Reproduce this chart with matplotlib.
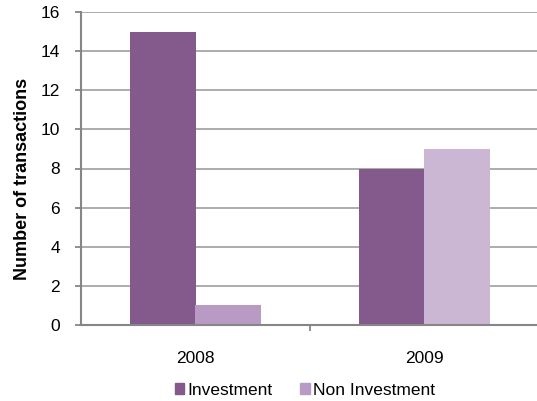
import numpy as np
import matplotlib.pyplot as plt
from matplotlib.patches import Patch

plt.rcParams['font.family'] = ['Liberation Sans', 'DejaVu Sans']

# Кількість угод за роками
years = ['2008', '2009']
investment = [15, 8]
non_investment = [1, 9]

inv_color = '#845A8D'
non_inv_colors = ['#B99AC4', '#CBB6D4']
grid_color = '#A6A6A6'
axis_color = '#868686'

fig = plt.figure(figsize=(5.37, 4.01), dpi=100)
ax = fig.add_axes([81 / 537, 76 / 401, 458 / 537, 313 / 401])

x = np.arange(len(years))
w = 0.288
ax.bar(x - w / 2, investment, w, color=inv_color, zorder=3)
ax.bar(x + w / 2, non_investment, w, color=non_inv_colors, zorder=3)

ax.set_xlim(-0.5, 1.5)
ax.set_ylim(0, 16)
ax.set_yticks(range(0, 17, 2))
ax.yaxis.grid(True, color=grid_color, linewidth=1.3, zorder=0)
ax.set_axisbelow(True)

for s in ['top', 'right']:
    ax.spines[s].set_visible(False)
for s in ['left', 'bottom']:
    ax.spines[s].set_color(axis_color)
    ax.spines[s].set_linewidth(1.5)
    ax.spines[s].set_zorder(4)

ax.tick_params(axis='y', length=4, width=1.3, color=axis_color, pad=11, labelsize=12.5)
ax.set_xticks(x, years)
ax.tick_params(axis='x', which='major', length=0, pad=19, labelsize=12.5)
ax.set_xticks([0.5], minor=True)
ax.tick_params(axis='x', which='minor', length=4, width=1.3, color=axis_color)

ax.set_ylabel('Number of transactions', fontsize=13, fontweight='bold')
ax.yaxis.set_label_coords(-0.11, 0.466)

handles = [Patch(color=inv_color, label='Investment'),
           Patch(color=non_inv_colors[0], label='Non Investment')]
fig.legend(handles=handles, loc='center', bbox_to_anchor=(0.568, 0.027), ncol=2,
           frameon=False, fontsize=12.5, handlelength=0.55, handleheight=0.55,
           handletextpad=0.2, columnspacing=1.6)

plt.savefig('out.png', dpi=100)
